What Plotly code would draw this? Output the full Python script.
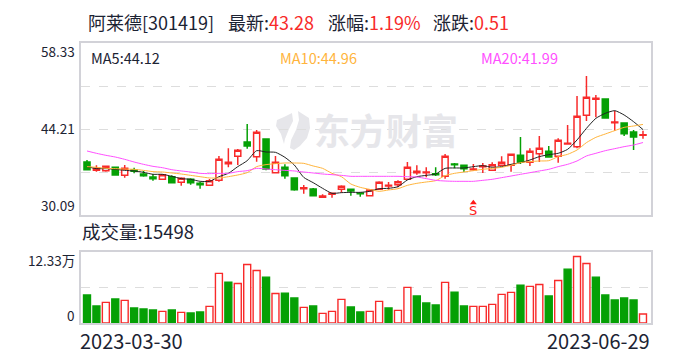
import plotly.graph_objects as go

dates = ["2023-03-30","2023-03-31","2023-04-03","2023-04-04","2023-04-06","2023-04-07",
"2023-04-10","2023-04-11","2023-04-12","2023-04-13","2023-04-14","2023-04-17","2023-04-18","2023-04-19","2023-04-20","2023-04-21",
"2023-04-24","2023-04-25","2023-04-26","2023-04-27","2023-04-28","2023-05-04","2023-05-05",
"2023-05-08","2023-05-09","2023-05-10","2023-05-11","2023-05-12","2023-05-15","2023-05-16","2023-05-17","2023-05-18","2023-05-19",
"2023-05-22","2023-05-23","2023-05-24","2023-05-25","2023-05-26","2023-05-29","2023-05-30","2023-05-31","2023-06-01","2023-06-02",
"2023-06-05","2023-06-06","2023-06-07","2023-06-08","2023-06-09","2023-06-12","2023-06-13","2023-06-14","2023-06-15","2023-06-16",
"2023-06-19","2023-06-20","2023-06-21","2023-06-26","2023-06-27","2023-06-28","2023-06-29"]

opens = [38.79,37.42,37.37,37.92,36.60,37.48,36.82,36.33,35.95,36.38,35.45,35.95,35.29,34.96,35.78,38.52,39.72,42.08,39.67,42.57,
37.04,37.92,36.17,34.41,34.36,32.99,33.48,34.30,34.30,33.70,33.27,34.30,34.85,35.07,35.95,37.04,37.04,36.88,36.44,38.46,
38.25,37.53,38.03,37.42,38.25,38.25,39.89,38.74,40.16,40.54,39.72,41.75,41.31,46.45,49.08,49.14,45.25,45.20,43.72,43.17]
highs = [39.12,38.25,38.19,38.03,38.30,37.86,37.32,36.82,36.82,36.60,36.27,36.11,35.51,36.00,39.78,41.04,40.93,45.03,44.05,42.57,
39.78,38.41,36.27,35.02,34.52,33.48,33.76,34.96,34.41,33.81,34.30,35.62,35.51,35.78,38.79,38.25,37.92,37.92,40.11,38.63,
38.25,38.46,38.63,38.74,39.72,40.05,42.90,41.04,43.06,41.42,42.68,44.87,49.63,52.91,49.79,49.14,47.22,45.20,44.05,43.94]
lows = [37.42,37.21,37.21,36.55,36.22,36.93,36.38,35.73,35.89,35.34,34.91,35.07,34.41,34.91,35.56,37.92,38.30,40.98,38.85,37.42,
37.04,36.06,34.09,33.59,33.21,32.94,32.94,33.76,33.27,33.10,33.21,34.20,34.25,34.63,35.84,36.71,36.27,36.49,36.06,37.75,
37.15,37.37,36.99,37.37,38.14,37.21,38.46,38.14,38.79,39.50,38.68,41.64,41.04,45.52,46.13,45.91,43.94,43.06,40.76,42.62]
closes = [37.53,37.75,38.08,36.66,37.75,37.26,36.55,36.06,36.71,35.40,36.11,35.40,35.07,35.73,39.23,38.74,40.71,41.42,43.66,37.64,
38.74,36.55,34.25,34.58,33.27,33.21,33.65,34.80,34.03,33.59,34.20,35.45,34.96,35.56,37.92,37.26,37.15,36.71,39.72,38.36,
37.70,37.64,38.14,38.36,38.74,40.05,38.79,40.54,41.04,39.61,42.35,41.86,46.29,49.41,49.25,46.02,45.36,43.45,42.90,43.28]

ma5 = [38.03,37.70,37.70,37.59,37.42,37.32,37.10,36.77,36.77,36.44,36.06,35.95,35.62,35.62,36.38,36.93,38.03,39.01,40.65,40.43,
40.38,39.56,38.30,36.27,35.40,34.47,33.65,33.76,33.81,33.81,33.98,34.41,34.47,34.74,35.84,36.38,36.60,36.82,37.75,37.81,
37.81,38.03,38.19,37.92,38.03,38.41,38.68,39.12,39.67,40.00,40.22,40.87,42.41,44.32,45.96,46.78,47.22,46.51,45.41,44.12]
ma10 = [38.03,37.92,37.75,37.70,37.64,37.59,37.42,37.21,37.15,36.99,36.82,36.60,36.38,36.17,36.17,36.38,36.66,37.04,38.03,38.36,
38.52,38.63,38.63,38.57,38.14,37.75,36.93,36.38,35.18,34.63,34.30,33.98,34.20,34.41,34.96,35.29,35.51,35.73,36.55,36.93,
37.15,37.37,37.59,37.75,37.92,38.25,38.68,38.85,38.96,39.01,39.67,40.05,40.76,41.97,42.84,43.39,43.94,44.48,44.70,44.96]
ma20 = [40.60,40.22,39.89,39.61,39.23,38.79,38.41,38.08,37.86,37.53,37.32,37.15,36.93,36.88,36.93,36.93,37.21,37.37,37.75,37.64,
37.53,37.42,37.32,37.15,36.99,36.82,36.71,36.60,36.44,36.44,36.44,36.44,36.44,36.44,36.38,36.33,36.06,35.78,35.67,35.62,
35.62,35.62,35.78,35.95,36.22,36.49,36.77,37.04,37.32,37.59,38.03,38.41,38.96,39.78,40.22,40.65,40.98,41.31,41.58,41.99]

volumes = [4.82,2.92,3.56,4.13,3.90,2.58,2.41,2.24,2.01,2.24,1.84,1.72,1.89,2.87,8.55,7.05,6.82,10.09,9.06,7.91,
5.10,5.16,4.30,2.70,2.92,1.66,2.01,4.07,2.75,1.89,2.01,3.73,2.58,2.18,6.14,4.65,3.44,3.10,7.00,5.33,
2.92,2.87,2.87,3.21,4.93,5.28,6.54,6.31,6.65,4.65,7.34,9.29,11.47,10.27,7.91,4.82,3.96,4.30,3.96,1.55]
vol_dir = list("GGRGRGGGRGRGGRRGRRRGRGGRGRRRGGRRGRRGGGRGGRRRRRGRRGRGRRGGGGGR")

price_ticks = [58.33, 51.27, 44.21, 37.15, 30.09]
vol_ticks = [0, 6.165, 12.33]
signal_date = "2023-06-01"
signal_price = 32.1

RED = "#f82a2a"
GREEN = "#05a005"
GRID = "#dddddd"
BOX = "#d2d2d8"
TEXT = "#1c2333"
W, H = 688, 360
CN = "Noto Sans CJK SC, Noto Sans, sans-serif"

def px(x): return x / W
def py(y): return 1 - y / H

fig = go.Figure()
fig.add_trace(go.Candlestick(
    x=dates, open=opens, high=highs, low=lows, close=closes, xaxis="x", yaxis="y",
    whiskerwidth=0,
    increasing=dict(line=dict(color=RED, width=1.5), fillcolor="#ffffff"),
    decreasing=dict(line=dict(color=GREEN, width=1.5), fillcolor=GREEN),
))
for vals, col in ((ma5, "#222222"), (ma10, "#ffb43c"), (ma20, "#ff4fff")):
    fig.add_trace(go.Scatter(x=dates, y=vals, mode="lines", xaxis="x", yaxis="y",
                             line=dict(color=col, width=1, shape="spline", smoothing=0.6)))
fig.add_trace(go.Scatter(x=[signal_date], y=[signal_price], mode="markers", xaxis="x", yaxis="y",
                         marker=dict(symbol="triangle-up", size=6, color="#ff1a1a", line=dict(width=0))))
fig.add_trace(go.Bar(
    x=dates, y=volumes, xaxis="x2", yaxis="y2", width=0.74,
    marker=dict(color=["#ffffff" if d == "R" else GREEN for d in vol_dir],
                line=dict(color=[RED if d == "R" else GREEN for d in vol_dir], width=1.4)),
))

xcommon = dict(type="category", categoryorder="array", categoryarray=dates,
               range=[-0.69, 59.85], showticklabels=False, ticks="", showgrid=False,
               showline=True, mirror=True, linecolor=BOX, linewidth=1.5, zeroline=False,
               rangeslider=dict(visible=False), fixedrange=True)
ycommon = dict(showticklabels=False, ticks="", showgrid=True, gridcolor=GRID, griddash="dash",
               gridwidth=1, showline=True, mirror=True, linecolor=BOX, linewidth=1.5,
               zeroline=False, fixedrange=True, tickmode="array")

def note(text, x, y, size, color=TEXT, anchor="left", family=CN):
    return dict(text=text, x=px(x), y=py(y), xref="paper", yref="paper", xanchor=anchor, yanchor="middle",
                showarrow=False, font=dict(family=family, size=size, color=color))

def rich(label, value, color=RED):
    return f'{label}<span style="color:{color}">{value}</span>'

annotations = [
    dict(text="东方财富", x=px(386), y=py(129), xref="paper", yref="paper", xanchor="center", yanchor="middle",
         showarrow=False, font=dict(family=CN, size=36, color="#e6e6ea", weight=700)),
    note("阿莱德[301419]", 86, 22, 18),
    note(rich("最新:", "43.28"), 226, 22, 18),
    note(rich("涨幅:", "1.19%"), 326, 22, 18),
    note(rich("涨跌:", "0.51"), 431, 22, 18),
    note("MA5:44.12", 89, 57, 14.5),
    note("MA10:44.96", 278, 57, 14.5, "#ffb43c"),
    note("MA20:41.99", 479, 57, 14.5, "#ff4fff"),
    note("58.33", 77, 51, 13.5, anchor="right"),
    note("44.21", 77, 128, 13.5, anchor="right"),
    note("30.09", 77, 205, 13.5, anchor="right"),
    note("成交量:15498", 80, 231, 18.5),
    note("12.33万", 77, 260, 13.5, anchor="right"),
    note("0", 77, 315, 13.5, anchor="right"),
    note("2023-03-30", 78, 340, 20),
    note("2023-06-29", 652, 340, 20, anchor="right"),
    dict(text="S", x=signal_date, y=py(210.5), xref="x", yref="paper", xanchor="center", yanchor="middle",
         showarrow=False, font=dict(family="DejaVu Sans", size=13, color="#ff1a1a")),
]

# watermark leaf mark, in paper coordinates
def pth(pts):
    return "M" + " L".join(f"{px(a):.4f},{py(b):.4f}" for a, b in pts) + " Z"
leaf1 = [(298,111),(309,118),(310,128),(307,138),(300,146),(294,150),(290,148),(291,140),(296,130),(299,120)]
leaf2 = [(292,113),(293,121),(289,129),(285,139),(284,144),(281,134),(276,126),(277,120),(284,117)]
shapes = [dict(type="path", xref="paper", yref="paper", path=pth(p), fillcolor="#e6e6ea",
               line=dict(width=0), layer="below") for p in (leaf1, leaf2)]

fig.update_layout(
    width=W, height=H, margin=dict(l=0, r=0, t=0, b=0), showlegend=False,
    paper_bgcolor="#ffffff", plot_bgcolor="rgba(0,0,0,0)", boxgap=0.08, bargap=0.2,
    xaxis=dict(domain=[px(80.5), px(651)], anchor="y", **xcommon),
    xaxis2=dict(domain=[px(80.5), px(651)], anchor="y2", **xcommon),
    yaxis=dict(domain=[py(215), py(43)], anchor="x", range=[30.09, 58.33], tickvals=price_ticks, **ycommon),
    yaxis2=dict(domain=[py(323), py(251.5)], anchor="x2", range=[0, 12.33], tickvals=vol_ticks, **ycommon),
    annotations=annotations, shapes=shapes,
)
fig.write_html("out.html", config=dict(displayModeBar=False),
               post_script="document.body.style.margin='0';")
